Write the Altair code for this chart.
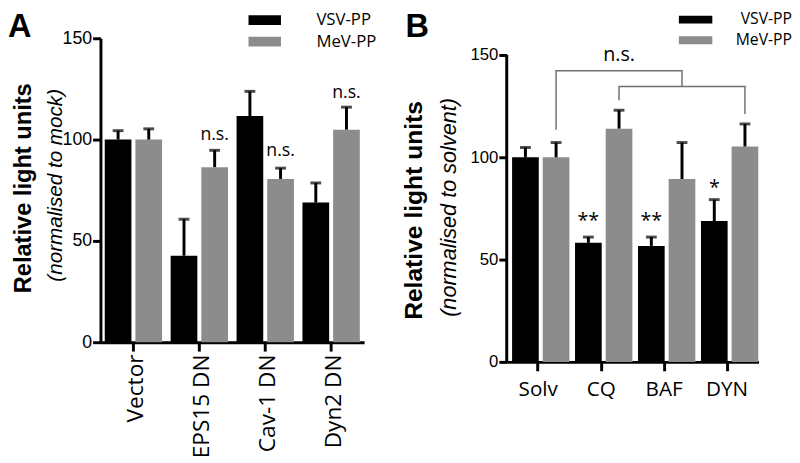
import altair as alt
import pandas as pd

SERIES = ["VSV-PP", "MeV-PP"]
COLORS = ["#000000", "#8c8c8c"]

# Panel A
CATS_A = ["Vector", "EPS15 DN", "Cav-1 DN", "Dyn2 DN"]
VSV_A = [100, 42.7, 111.6, 68.9]
VSV_A_ERR = [4.4, 18.0, 12.2, 9.7]
MEV_A = [100, 86.4, 80.6, 104.9]
MEV_A_ERR = [5.3, 8.3, 5.3, 11.1]
NS_A_CATS = ["EPS15 DN", "Cav-1 DN", "Dyn2 DN"]
NS_A_Y = [100, 91.8, 120.5]

# Panel B
CATS_B = ["Solv", "CQ", "BAF", "DYN"]
VSV_B = [100, 58.2, 56.7, 68.8]
VSV_B_ERR = [4.8, 2.8, 4.3, 10.5]
MEV_B = [100, 114.0, 89.4, 105.3]
MEV_B_ERR = [7.2, 9.0, 17.8, 11.0]
STAR_B_CATS = ["CQ", "BAF", "DYN"]
STAR_B_TEXT = ["**", "**", "*"]
STAR_B_Y = [69, 69, 85]
BR_CATS = ["Solv", "Solv", "BAF", "BAF", "CQ", "CQ", "DYN", "DYN"]
BR_Y = [113.5, 142.3, 142.3, 134.6, 127.9, 134.6, 134.6, 121.2]
BR_ID = [1, 1, 1, 1, 2, 2, 2, 2]
BR_ORDER = [0, 1, 2, 3, 0, 1, 2, 3]
NS_B_CAT = ["CQ"]
NS_B_Y = [147]

Y_TICKS = [0, 50, 100, 150]
TITLE_WORDS = ["Relative", "light", "units"]
SUB_A = "(normalised to mock)"
SUB_B_PARTS = ["(normalised", "to solvent)"]


def bars_df(cats, v1, e1, v2, e2):
    rows = []
    for c, a, ea, b, eb in zip(cats, v1, e1, v2, e2):
        rows.append(dict(cat=c, series=SERIES[0], value=a, top=a + ea))
        rows.append(dict(cat=c, series=SERIES[1], value=b, top=b + eb))
    return pd.DataFrame(rows)


def text_layer(txt, x, y, size, weight="normal", style="normal", angle=0,
               align="center", baseline="middle", font="Liberation Sans"):
    return alt.Chart(pd.DataFrame({"t": [txt]})).mark_text(
        font=font, fontSize=size, fontWeight=weight, fontStyle=style,
        angle=angle, align=align, baseline=baseline, color="black"
    ).encode(text="t:N", x=alt.value(x), y=alt.value(y))


def yaxis(fs, domain=True):
    return alt.Axis(values=Y_TICKS, title=None, grid=False, domain=domain,
                    domainColor="black", domainWidth=3, tickColor="black",
                    tickWidth=3, tickSize=8, labelFont="Liberation Sans",
                    labelFontSize=fs, labelColor="black", labelPadding=1)


def legend(lx, ly, fs, rowpad, path, sym_off, lab_off, lab_align):
    return alt.Legend(title=None, orient="none", legendX=lx, legendY=ly,
                      symbolType=path, symbolSize=100, symbolOffset=sym_off,
                      symbolStrokeWidth=0, symbolOpacity=1, labelOffset=lab_off,
                      labelAlign=lab_align, labelFont="Open Sans", labelFontSize=fs,
                      labelColor="black", rowPadding=rowpad)


def panel(df, cats, pin, pout, subpin, xaxis, ysc, yax, leg):
    x = alt.X("cat:N", sort=cats, scale=alt.Scale(paddingInner=pin, paddingOuter=pout), axis=xaxis)
    xo = alt.XOffset("series:N", sort=SERIES, scale=alt.Scale(paddingInner=subpin, paddingOuter=0))
    bars = alt.Chart(df).mark_bar().encode(
        x=x, xOffset=xo,
        y=alt.Y("value:Q", scale=ysc, axis=yax),
        color=alt.Color("series:N", scale=alt.Scale(domain=SERIES, range=COLORS), legend=leg),
    )
    err = alt.Chart(df).mark_rule(color="black", strokeWidth=3).encode(
        x=x, xOffset=xo, y=alt.Y("value:Q", scale=ysc), y2="top:Q")
    cap = alt.Chart(df).mark_tick(color="black", thickness=3, size=11).encode(
        x=x, xOffset=xo, y=alt.Y("top:Q", scale=ysc))
    return x, xo, [bars, err, cap]


# ---- Panel A ----
WA, HA = 268, 309
ysc_a = alt.Scale(domain=[0, 150], nice=False, zero=True)
dfa = bars_df(CATS_A, VSV_A, VSV_A_ERR, MEV_A, MEV_A_ERR)
xa_axis = alt.Axis(title=None, labelAngle=270, labelAlign="right", labelBaseline="middle",
                   labelFont="Open Sans", labelFontSize=23, labelPadding=3, labelOffset=3,
                   tickSize=9, tickWidth=3, domainWidth=3, domainColor="black",
                   tickColor="black", labelColor="black")
xa, xoa, layers_a = panel(dfa, CATS_A, 0.13, 0.065, 0.13, xa_axis, ysc_a, yaxis(18),
                          legend(145, -27, 17, 4, "M-3.3,-1H3.3V1H-3.3Z", 13.5, 44, "left"))
ns_a = alt.Chart(pd.DataFrame({"cat": NS_A_CATS, "series": [SERIES[1]] * 3, "y": NS_A_Y,
                               "t": ["n.s."] * 3})).mark_text(
    font="Open Sans", fontSize=18, baseline="alphabetic", color="black"
).encode(x=xa, xOffset=xoa, y=alt.Y("y:Q", scale=ysc_a), text="t:N")
chart_a = alt.layer(
    *layers_a, ns_a,
    text_layer("A", -94, -27, 33, weight="bold", align="left", baseline="top"),
    text_layer(TITLE_WORDS[0], -78, 259.2, 24, weight="bold", angle=270, align="left"),
    text_layer(TITLE_WORDS[1], -78, 160.5, 24, weight="bold", angle=270, align="left"),
    text_layer(TITLE_WORDS[2], -78, 45.8, 24, weight="bold", angle=270, align="right"),
    text_layer(SUB_A, -45, 149.5, 21, style="italic", angle=270),
).properties(width=WA, height=HA)

# ---- Panel B ----  (plot top sits 17px lower than A's: domain extends above 150)
WB, HB = 256, 329
ysc_b = alt.Scale(domain=[0, 158.17], nice=False, zero=True)
dfb = bars_df(CATS_B, VSV_B, VSV_B_ERR, MEV_B, MEV_B_ERR)
xb_axis = alt.Axis(title=None, labelAngle=0, labelFont="Open Sans", labelFontSize=21,
                   labelPadding=8, tickSize=9, tickWidth=3, domainWidth=3,
                   domainColor="black", tickColor="black", labelColor="black")
xb, xob, layers_b = panel(dfb, CATS_B, 0.17, 0.085, 0.17, xb_axis, ysc_b,
                          yaxis(17, domain=False),
                          legend(171, -27, 16, 5, "M-3.4,-0.8H3.4V0.8H-3.4Z", 13, 90, "right"))
yline_b = alt.Chart(pd.DataFrame({"y0": [Y_TICKS[0]], "y1": [Y_TICKS[-1]]})).mark_rule(
    color="black", strokeWidth=3
).encode(x=alt.value(0), y=alt.Y("y0:Q", scale=ysc_b), y2="y1:Q")
stars = alt.Chart(pd.DataFrame({"cat": STAR_B_CATS, "series": [SERIES[0]] * 3,
                                "y": STAR_B_Y, "t": STAR_B_TEXT})).mark_text(
    font="Open Sans", fontSize=20, baseline="middle", color="black"
).encode(x=xb, xOffset=xob, y=alt.Y("y:Q", scale=ysc_b), text="t:N")
brackets = alt.Chart(pd.DataFrame({"cat": BR_CATS, "series": [SERIES[1]] * 8, "y": BR_Y,
                                   "id": BR_ID, "ord": BR_ORDER})).mark_line(
    color="#707070", strokeWidth=1.5
).encode(x=xb, xOffset=xob, y=alt.Y("y:Q", scale=ysc_b), detail="id:N", order="ord:Q")
ns_b = alt.Chart(pd.DataFrame({"cat": NS_B_CAT, "series": [SERIES[1]], "y": NS_B_Y,
                               "t": ["n.s."]})).mark_text(
    font="Open Sans", fontSize=20, baseline="alphabetic", color="black"
).encode(x=xb, xOffset=xob, y=alt.Y("y:Q", scale=ysc_b), text="t:N")
chart_b = alt.layer(
    *layers_b, yline_b, brackets, stars, ns_b,
    text_layer("B", -103, -27, 33, weight="bold", align="left", baseline="top"),
    text_layer(TITLE_WORDS[0], -94, 286.2, 25, weight="bold", angle=270, align="left"),
    text_layer(TITLE_WORDS[1], -94, 183.3, 25, weight="bold", angle=270, align="left"),
    text_layer(TITLE_WORDS[2], -94, 63.9, 25, weight="bold", angle=270, align="right"),
    text_layer(SUB_B_PARTS[0], -58.5, 283.2, 22, style="italic", angle=270, align="left"),
    text_layer(SUB_B_PARTS[1], -58.5, 60.8, 22, style="italic", angle=270, align="right"),
).properties(width=WB, height=HB)

chart = alt.hconcat(chart_a, chart_b, spacing=145, bounds="flush").resolve_scale(
    color="independent").properties(padding=0).configure_view(stroke=None)

chart.save("out.html", embed_options={"renderer": "svg", "actions": False})
